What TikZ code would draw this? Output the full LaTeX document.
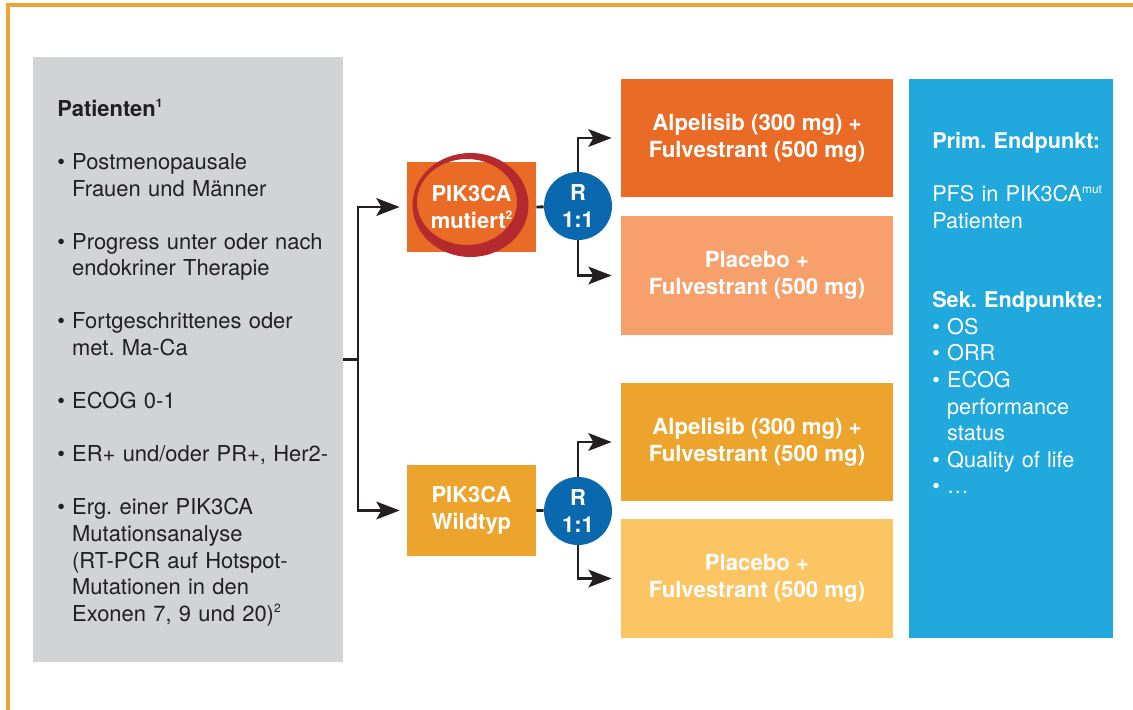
\documentclass[tikz,border=0pt]{standalone}
\usepackage{fontspec}
\setmainfont{TeX Gyre Heros}
\usetikzlibrary{positioning,calc,arrows.meta}

\definecolor{rahmen}{HTML}{F0A431}
\definecolor{grau}{HTML}{D1D3D4}
\definecolor{schwarz}{HTML}{231F20}
\definecolor{orangedunkel}{HTML}{EA6B25}
\definecolor{orangehell}{HTML}{F7A06B}
\definecolor{gelbdunkel}{HTML}{EDA42C}
\definecolor{gelbhell}{HTML}{FCC563}
\definecolor{randblau}{HTML}{0A68AE}
\definecolor{cyan}{HTML}{21A9DD}
\definecolor{ring}{HTML}{B42A2E}

% bullet item with hanging indent
\newcommand{\pkt}[1]{\par\noindent\hangindent=10.6pt\hangafter=1\makebox[10.6pt][l]{\textbullet}#1}
% small superscript
\newcommand{\hoch}[1]{\raisebox{0.38em}{\fontsize{8.5}{10}\selectfont #1}}

\begin{document}
\begin{tikzpicture}[x=0.025cm, y=-0.025cm,
    schrift/.style={font=\fontsize{15.6}{18.9}\selectfont\frenchspacing},
    arm/.style={rectangle, inner sep=0pt, minimum width=6.8cm, minimum height=2.95cm, text=white, align=center, font=\fontsize{15.8}{18.9}\selectfont\bfseries},
    gruppe/.style={rectangle, inner sep=0pt, minimum width=3.225cm, minimum height=2.25cm, text=white, align=center, font=\fontsize{15.6}{18.9}\selectfont\bfseries},
    rand/.style={circle, fill=randblau, minimum size=1.7cm, inner sep=0pt, text=white, align=center, font=\fontsize{15.6}{18.9}\selectfont\bfseries},
    linie/.style={draw=schwarz, line width=2pt},
    pfeil/.style={linie, -{Stealth[length=16.5pt, width=12.5pt, inset=3.5pt]}}]
    \useasboundingbox (0,0) rectangle (1133,710);

    % frame
    \draw[rahmen, line width=2.2pt] (8,710) -- (8,5) -- (1133,5);

    % patients
    \node[rectangle, fill=grau, minimum width=7.75cm, minimum height=15.125cm, inner sep=0pt] (pat) at (188,359.5) {};
    \node[schrift, anchor=north west, inner sep=0pt, text width=195pt, text=schwarz] (pattext) at (57,97.4) {%
        \parindent=0pt\parskip=18.9pt\strut\textbf{Patienten\hoch{1}}
        \pkt{Postmenopausale\newline Frauen und Männer}
        \pkt{Progress unter oder nach\newline endokriner Therapie}
        \pkt{Fortgeschrittenes oder\newline met. Ma-Ca}
        \pkt{ECOG 0-1}
        \pkt{ER+ und/oder PR+, Her2-}
        \pkt{Erg. einer PIK3CA\newline Mutationsanalyse\newline (RT-PCR auf Hotspot-\newline Mutationen in den\newline Exonen 7, 9 und 20)\hoch{2}}\par};

    % groups
    \node[gruppe, fill=orangedunkel] (mut) at (471.5,207) {};
    \fill[ring, even odd rule] (470.5,205) ellipse [x radius=58, y radius=52]
                               (467,202) ellipse [x radius=50, y radius=43];
    \node[gruppe] (muttext) at (mut.center) {PIK3CA\\mutiert\hoch{2}};
    \node[gruppe, fill=gelbdunkel] (wild) at (471.5,510.5) {PIK3CA\\Wildtyp};

    % randomisation
    \node[rand] (rmut) at (578,206) {R\\1:1};
    \node[rand] (rwild) at (578,511) {R\\1:1};

    % arms
    \node[arm, fill=orangedunkel] (arm1) at (757,138) {Alpelisib (300 mg) +\\Fulvestrant (500 mg)};
    \node[arm, fill=orangehell] (arm2) at (757,275.5) {Placebo +\\Fulvestrant (500 mg)};
    \node[arm, fill=gelbdunkel] (arm3) at (757,442) {Alpelisib (300 mg) +\\Fulvestrant (500 mg)};
    \node[arm, fill=gelbhell] (arm4) at (757,578.5) {Placebo +\\Fulvestrant (500 mg)};

    % endpoints
    \node[rectangle, fill=cyan, minimum width=5.1cm, minimum height=13.975cm, inner sep=0pt] (end) at (1011,358.5) {};
    \node[schrift, font=\fontsize{15.4}{18.9}\selectfont\frenchspacing, anchor=north west, inner sep=0pt, text width=130pt, text=white] (endtext) at (932,129.4) {%
        \parindent=0pt\parskip=0pt\strut\textbf{Prim. Endpunkt:}\\[18.9pt]
        PFS in PIK3CA\hoch{mut}\\Patienten\\[37.8pt]
        \textbf{Sek. Endpunkte:}
        \pkt{OS}
        \pkt{ORR}
        \pkt{ECOG\newline performance\newline status}
        \pkt{Quality of life}
        \pkt{\dots}\par};

    % connectors
    \coordinate (split) at (358,359.5);
    \draw[linie] (pat.east) -- (split);
    \draw[pfeil, shorten >=5pt] (split) |- (mut.west);
    \draw[pfeil, shorten >=5pt] (split) |- (wild.west);
    \draw[linie] (mut.east) -- (rmut);
    \draw[linie] (wild.east) -- (rwild);
    \draw[pfeil, shorten >=6.4pt] (rmut.north) |- (arm1.west);
    \draw[pfeil, shorten >=6.4pt] (rmut.south) |- (arm2.west);
    \draw[pfeil, shorten >=6.4pt] (rwild.north) |- (arm3.west);
    \draw[pfeil, shorten >=6.4pt] (rwild.south) |- (arm4.west);
\end{tikzpicture}
\end{document}
